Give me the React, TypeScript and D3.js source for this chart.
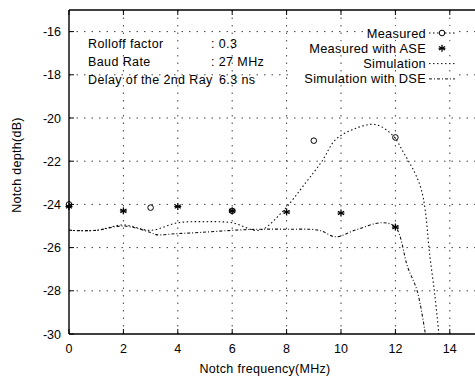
import React from "react";
import * as d3 from "d3";

const xTicks = [0, 2, 4, 6, 8, 10, 12, 14];
const yTicks = [-16, -18, -20, -22, -24, -26, -28, -30];

const measuredX = [0, 3, 6, 9, 12];
const measuredY = [-24.0, -24.15, -24.3, -21.05, -20.9];

const aseX = [0, 2, 4, 6, 8, 10, 12];
const aseY = [-24.1, -24.3, -24.1, -24.3, -24.35, -24.4, -25.05];

const simX = [0, 1, 2, 3, 4, 5, 6, 7, 7.8, 8.7, 9.3, 9.8, 10.5, 11.25, 11.9, 12.3, 12.7, 12.95, 13.1, 13.25, 13.45, 13.6];
const simY = [-25.2, -25.2, -24.95, -25.2, -24.85, -24.8, -24.85, -25.2, -24.4, -23.0, -22.0, -21.0, -20.5, -20.3, -20.8, -21.6, -22.5, -23.3, -24.3, -26.2, -28.2, -30.0];

const dseX = [0, 1, 2, 3, 3.2, 4, 4.8, 6, 7, 8, 9.2, 9.8, 10.5, 11.5, 12, 12.45, 12.8, 13.1];
const dseY = [-25.2, -25.2, -25.0, -25.3, -25.4, -25.35, -25.3, -25.2, -25.15, -25.15, -25.2, -25.5, -25.2, -24.85, -25.05, -26.9, -28.0, -30.0];

const textLabels = ["Rolloff factor", "Baud Rate", "Delay of the 2nd Ray"];
const textValues = [": 0.3", ": 27 MHz", "6.3 ns"];
const legendLabels = ["Measured", "Measured with ASE", "Simulation", "Simulation with DSE"];

const W = 475, H = 378;
const left = 69, right = 477, top = 10, bottom = 334;
const font = "'Liberation Sans', Arial, sans-serif";

function Star({ x, y, s = 3.5 }: { x: number; y: number; s?: number }) {
  const arms = [0, 60, 120].map((a) => {
    const r = (a * Math.PI) / 180 + Math.PI / 2;
    return (
      <line key={a} x1={x - s * Math.cos(r)} y1={y - s * Math.sin(r)} x2={x + s * Math.cos(r)} y2={y + s * Math.sin(r)} stroke="#000" strokeWidth={1.3} />
    );
  });
  return <g>{arms}<line x1={x - s} y1={y} x2={x + s} y2={y} stroke="#000" strokeWidth={1} /></g>;
}

export default function App() {
  const x = d3.scaleLinear().domain([0, 15]).range([left, right]);
  const y = d3.scaleLinear().domain([-30, -15]).range([bottom, top]);
  const line = d3
    .line<[number, number]>()
    .x((d) => x(d[0]))
    .y((d) => y(d[1]))
    .curve(d3.curveCatmullRom.alpha(0.5));
  const simPts = simX.map((v, i) => [v, simY[i]] as [number, number]);
  const dsePts = dseX.map((v, i) => [v, dseY[i]] as [number, number]);

  return (
    <svg width={W} height={H} style={{ position: "absolute", left: 0, top: 0, background: "#fff" }} fontFamily={font}>
      <defs>
        <clipPath id="plot">
          <rect x={left} y={top} width={right - left} height={bottom - top} />
        </clipPath>
      </defs>
      <rect x={0} y={0} width={W} height={H} fill="#fff" />
      {/* grid */}
      {xTicks.filter((t) => t > 0).map((t) => (
        <line key={"gx" + t} x1={x(t)} x2={x(t)} y1={top} y2={bottom} stroke="#444" strokeWidth={1} strokeDasharray="1.5,6" />
      ))}
      {yTicks.filter((t) => t > -30).map((t) => (
        <line key={"gy" + t} x1={left} x2={right} y1={y(t)} y2={y(t)} stroke="#444" strokeWidth={1} strokeDasharray="1.5,6" />
      ))}
      {/* curves */}
      <g clipPath="url(#plot)">
        <path d={line(simPts) || ""} fill="none" stroke="#111" strokeWidth={1.1} strokeDasharray="1.5,2.5" />
        <path d={line(dsePts) || ""} fill="none" stroke="#111" strokeWidth={1.1} strokeDasharray="3,2,1,2" />
      </g>
      {/* markers */}
      {measuredX.map((v, i) => (
        <circle key={"m" + i} cx={x(v)} cy={y(measuredY[i])} r={2.8} fill="none" stroke="#000" strokeWidth={1} />
      ))}
      {aseX.map((v, i) => (
        <Star key={"a" + i} x={x(v)} y={y(aseY[i])} />
      ))}
      {/* axes */}
      <line x1={left} x2={right} y1={top} y2={top} stroke="#000" strokeWidth={1.4} />
      <line x1={left} x2={right} y1={bottom} y2={bottom} stroke="#000" strokeWidth={1.4} />
      <line x1={left} x2={left} y1={top} y2={bottom} stroke="#000" strokeWidth={1.4} />
      {xTicks.map((t) => (
        <g key={"xt" + t}>
          <line x1={x(t)} x2={x(t)} y1={bottom} y2={bottom - 5} stroke="#000" />
          <line x1={x(t)} x2={x(t)} y1={top} y2={top + 5} stroke="#000" />
          <text x={x(t)} y={bottom + 19} fontSize={12.5} textAnchor="middle">{t}</text>
        </g>
      ))}
      {yTicks.map((t) => (
        <g key={"yt" + t}>
          <line x1={left} x2={left + 5} y1={y(t)} y2={y(t)} stroke="#000" />
          <text x={left - 8} y={y(t) + 4.5} fontSize={12.5} textAnchor="end">{t}</text>
        </g>
      ))}
      <text x={265} y={373} fontSize={12.5} letterSpacing={0.3} textAnchor="middle">Notch frequency(MHz)</text>
      <text transform={`translate(21,165) rotate(-90)`} fontSize={12.5} letterSpacing={0.3} textAnchor="middle">Notch depth(dB)</text>
      {/* info text */}
      {textLabels.map((s, i) => (
        <g key={"tl" + i}>
          <text x={88} y={48 + i * 17.8} fontSize={12.5} letterSpacing={0.4}>{s}</text>
          <text x={i === 2 ? 219 : 211} y={48 + i * 17.8} fontSize={12.5} letterSpacing={0.4}>{textValues[i]}</text>
        </g>
      ))}
      {/* legend */}
      {legendLabels.map((s, i) => {
        const ly = 33 + i * 15.3;
        return (
          <g key={"lg" + i}>
            <rect x={426 - s.length * 7} y={ly - 7} width={s.length * 7 + 30} height={13} fill="#fff" />
            <text x={426} y={ly + 4.5} fontSize={12.8} letterSpacing={0.3} textAnchor="end">{s}</text>
          </g>
        );
      })}
      <line x1={429} x2={455} y1={33} y2={33} stroke="#000" strokeDasharray="1.5,2.5" />
      <circle cx={442} cy={33} r={2.8} fill="#fff" stroke="#000" />
      <Star x={442} y={48.3} />
      <line x1={429} x2={455} y1={63.6} y2={63.6} stroke="#111" strokeDasharray="1.5,2.5" />
      <line x1={429} x2={455} y1={78.9} y2={78.9} stroke="#111" strokeDasharray="3,2,1,2" />
    </svg>
  );
}
